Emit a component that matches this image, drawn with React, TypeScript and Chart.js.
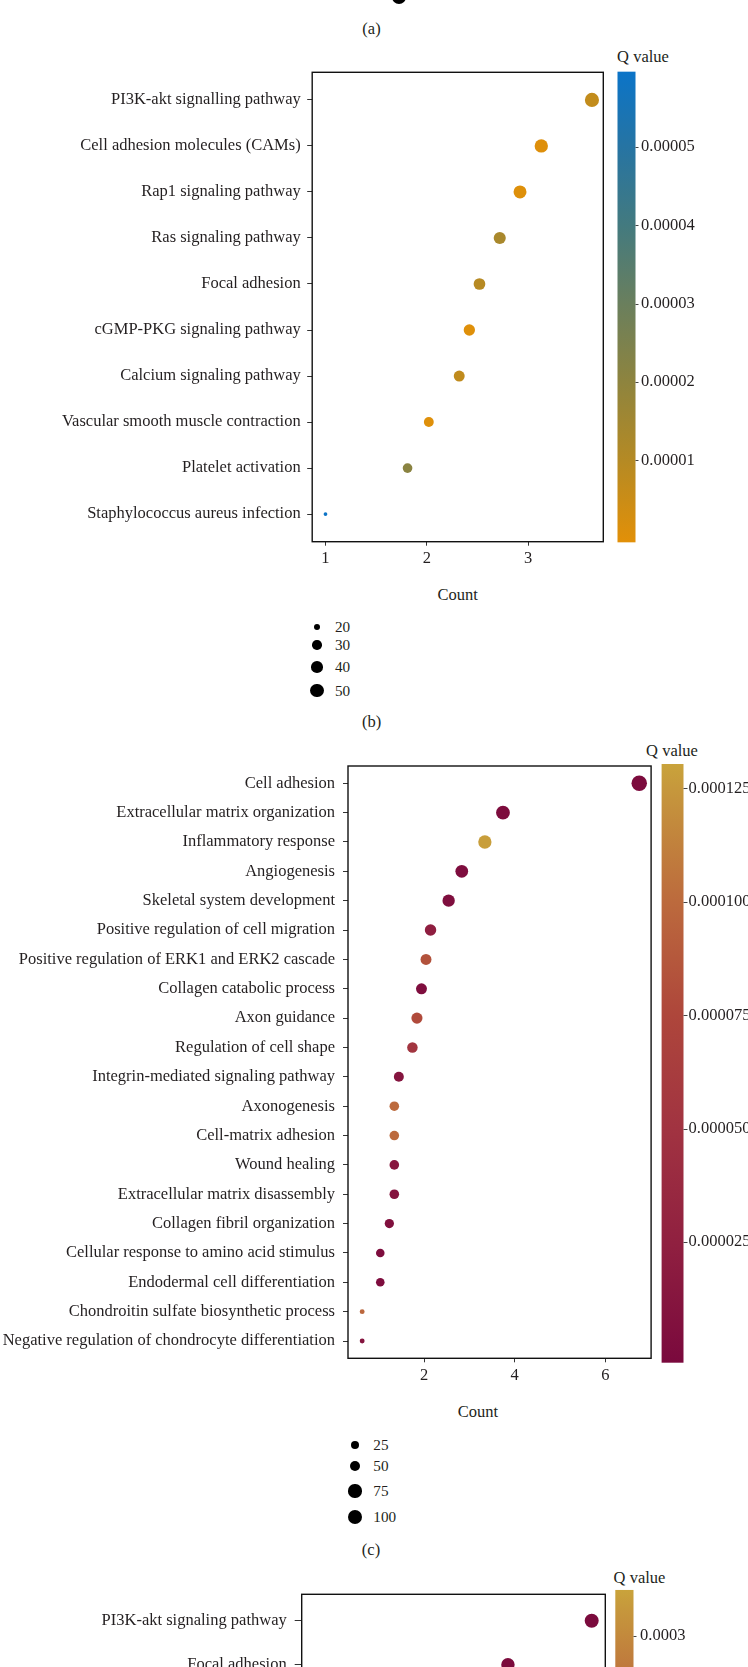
import React, { useEffect, useRef } from "react";
import { Chart, registerables } from "chart.js";

Chart.register(...registerables);

const FONT = '"Liberation Serif", "Times New Roman", Times, serif';
const TEXT = "#231f20";
const FS = 16.5;

// ---------------- Panel (b) ----------------
const bCategories = [
  "PI3K-akt signalling pathway",
  "Cell adhesion molecules (CAMs)",
  "Rap1 signaling pathway",
  "Ras signaling pathway",
  "Focal adhesion",
  "cGMP-PKG signaling pathway",
  "Calcium signaling pathway",
  "Vascular smooth muscle contraction",
  "Platelet activation",
  "Staphylococcus aureus infection",
];
const bXValues = [3.63, 3.13, 2.92, 2.72, 2.52, 2.42, 2.32, 2.02, 1.81, 1.0];
const bCounts = [57, 52, 50, 45, 43, 41, 39, 34, 33, 15];
const bQValues = [7.0e-6, 5e-7, 4e-7, 1.3e-5, 9.5e-6, 3e-7, 7.5e-6, 3e-7, 2.1e-5, 5.9e-5];
const bXTicks = [1, 2, 3];
const bQTicks = [0.00001, 0.00002, 0.00003, 0.00004, 0.00005];
const bQTickLabels = ["0.00001", "0.00002", "0.00003", "0.00004", "0.00005"];
const bSizeLegend = [20, 30, 40, 50];

// ---------------- Panel (c) ----------------
const cCategories = [
  "Cell adhesion",
  "Extracellular matrix organization",
  "Inflammatory response",
  "Angiogenesis",
  "Skeletal system development",
  "Positive regulation of cell migration",
  "Positive regulation of ERK1 and ERK2 cascade",
  "Collagen catabolic process",
  "Axon guidance",
  "Regulation of cell shape",
  "Integrin-mediated signaling pathway",
  "Axonogenesis",
  "Cell-matrix adhesion",
  "Wound healing",
  "Extracellular matrix disassembly",
  "Collagen fibril organization",
  "Cellular response to amino acid stimulus",
  "Endodermal cell differentiation",
  "Chondroitin sulfate biosynthetic process",
  "Negative regulation of chondrocyte differentiation",
];
const cXValues = [6.75, 3.74, 3.34, 2.83, 2.54, 2.14, 2.04, 1.94, 1.84, 1.74, 1.44, 1.34, 1.34, 1.34, 1.34, 1.23, 1.03, 1.03, 0.63, 0.63];
const cCounts = [117, 92, 85, 78, 73, 63, 57, 57, 59, 52, 47, 43, 43, 43, 43, 40, 34, 34, 9, 9];
const cQValues = [
  1e-6, 2e-6, 1.28e-4, 3e-6, 4e-6, 2.3e-5, 8.3e-5, 4e-6, 7.8e-5, 5.2e-5,
  1.2e-5, 1.0e-4, 1.0e-4, 1.5e-5, 1.1e-5, 6e-6, 3e-6, 3e-6, 9.8e-5, 1.2e-5,
];
const cXTicks = [2, 4, 6];
const cQTicks = [0.000025, 0.00005, 0.000075, 0.0001, 0.000125];
const cQTickLabels = ["0.000025", "0.000050", "0.000075", "0.000100", "0.000125"];
const cSizeLegend = [25, 50, 75, 100];

// ---------------- Panel (d) (top part only) ----------------
const dCategories = ["PI3K-akt signaling pathway", "Focal adhesion"];
const dXValues = [3.62, 2.82];
const dCounts = [95, 87];
const dQValues = [3e-6, 5e-6];
const dXTicks = [1, 2, 3];
const dQTicks = [0.0003];
const dQTickLabels = ["0.0003"];

// ---------------- colour ramps ----------------
const bStops: [number, string][] = [
  [0, "#E29008"], [0.173, "#B58A24"], [0.34, "#8E843E"], [0.507, "#6A7F5D"],
  [0.674, "#437A7F"], [0.841, "#2674A3"], [1, "#0B74C8"],
];
const cStops: [number, string][] = [
  [0, "#7A093D"], [0.2, "#902040"], [0.39, "#A13341"], [0.58, "#AE463B"],
  [0.77, "#BC6A3D"], [0.96, "#C6983C"], [1, "#C9A33B"],
];

function hexRgb(h: string) {
  const n = parseInt(h.slice(1), 16);
  return [(n >> 16) & 255, (n >> 8) & 255, n & 255];
}
function colorAt(stops: [number, string][], t: number) {
  t = Math.max(0, Math.min(1, t));
  for (let i = 1; i < stops.length; i++) {
    if (t <= stops[i][0]) {
      const [t0, c0] = stops[i - 1];
      const [t1, c1] = stops[i];
      const f = (t - t0) / (t1 - t0 || 1);
      const a = hexRgb(c0), b = hexRgb(c1);
      const m = a.map((v, k) => Math.round(v + (b[k] - v) * f));
      return `rgb(${m[0]},${m[1]},${m[2]})`;
    }
  }
  return stops[stops.length - 1][1];
}

const radiusB = (c: number) => Math.sqrt(Math.max(1, 1.1 * c - 13));
const radiusC = (c: number) => Math.sqrt(1.5 + 0.5 * c);

type Spec = {
  top: number; height: number;
  box: { left: number; right: number; top: number; bottom: number };
  categories: string[]; rows: number; yPad: number;
  xValues: number[]; counts: number[]; qValues: number[];
  xMin: number; xMax: number; xTicks: number[];
  qAxisMin: number; qAxisMax: number; barMin: number; barMax: number;
  barLeft: number; barRight: number; qTickLen: number; qLabelX: number;
  qTicks: number[]; qTickLabels: string[];
  stops: [number, string][];
  radius: (c: number) => number;
  yTickLen: number; yLabelPad: number; xLabelPad: number;
};

const specB: Spec = {
  top: 40, height: 540,
  box: { left: 312.2, right: 603.3, top: 72.3, bottom: 541.7 },
  categories: bCategories, rows: bCategories.length, yPad: 0.6,
  xValues: bXValues, counts: bCounts, qValues: bQValues,
  xMin: 0.869, xMax: 3.742, xTicks: bXTicks,
  qAxisMin: -3.6e-7, qAxisMax: 5.952e-5, barMin: -4.4e-7, barMax: 5.96e-5,
  barLeft: 617.5, barRight: 635.5, qTickLen: 3, qLabelX: 641,
  qTicks: bQTicks, qTickLabels: bQTickLabels, stops: bStops, radius: radiusB,
  yTickLen: 5, yLabelPad: 6.5, xLabelPad: 3.5,
};

const specC: Spec = {
  top: 740, height: 660,
  box: { left: 348, right: 651.1, top: 766, bottom: 1358.3 },
  categories: cCategories, rows: cCategories.length, yPad: 0.589,
  xValues: cXValues, counts: cCounts, qValues: cQValues,
  xMin: 0.317, xMax: 7.012, xTicks: cXTicks,
  qAxisMin: -6.4e-7, qAxisMax: 1.2994e-4, barMin: -1.61e-6, barMax: 1.3038e-4,
  barLeft: 661.6, barRight: 683.5, qTickLen: 4, qLabelX: 688.5,
  qTicks: cQTicks, qTickLabels: cQTickLabels, stops: cStops, radius: radiusC,
  yTickLen: 5, yLabelPad: 8, xLabelPad: 3.8,
};

const specD: Spec = {
  top: 1560, height: 520,
  box: { left: 301.7, right: 605.3, top: 1594.3, bottom: 2043.1 },
  categories: dCategories, rows: 10, yPad: 0.6,
  xValues: dXValues, counts: dCounts, qValues: dQValues,
  xMin: 0.85, xMax: 3.75, xTicks: dXTicks,
  qAxisMin: 0, qAxisMax: 0.0003307, barMin: -0.0000015, barMax: 0.0003339,
  barLeft: 615.3, barRight: 633.5, qTickLen: 3, qLabelX: 640,
  qTicks: dQTicks, qTickLabels: dQTickLabels, stops: cStops, radius: radiusC,
  yTickLen: 7, yLabelPad: 8, xLabelPad: 3.5,
};

function zeroPad(sc: any) {
  sc.paddingLeft = 0; sc.paddingRight = 0; sc.paddingTop = 0; sc.paddingBottom = 0;
}

function Panel({ spec }: { spec: Spec }) {
  const ref = useRef<HTMLCanvasElement>(null);
  useEffect(() => {
    const s = spec;
    const canvas = ref.current!;
    const colorOf = (q: number) => colorAt(s.stops, (q - s.barMin) / (s.barMax - s.barMin));
    const points = s.categories.map((_, i) => ({ x: s.xValues[i], y: i, r: s.radius(s.counts[i]) }));
    const font = { family: FONT, size: FS };
    const decor = {
      id: "decor" + s.top,
      afterDraw(chart: any) {
        const { ctx, chartArea } = chart;
        const q = chart.scales.q;
        ctx.save();
        const yb = q.getPixelForValue(s.barMin);
        const yt = q.getPixelForValue(s.barMax);
        const g = ctx.createLinearGradient(0, yb, 0, yt);
        s.stops.forEach(([t, c]) => g.addColorStop(t, c));
        ctx.fillStyle = g;
        ctx.fillRect(s.barLeft, yt, s.barRight - s.barLeft, yb - yt);
        ctx.strokeStyle = "#444";
        ctx.lineWidth = 1;
        s.qTicks.forEach((v) => {
          const y = Math.round(q.getPixelForValue(v)) + 0.5;
          ctx.beginPath();
          ctx.moveTo(s.barRight, y);
          ctx.lineTo(s.barRight + s.qTickLen, y);
          ctx.stroke();
        });
        ctx.strokeStyle = "#111";
        ctx.lineWidth = 1.4;
        ctx.strokeRect(chartArea.left, chartArea.top, chartArea.right - chartArea.left, chartArea.bottom - chartArea.top);
        ctx.restore();
      },
    };
    const chart = new Chart(canvas, {
      type: "bubble",
      data: {
        datasets: [
          {
            data: points,
            backgroundColor: s.qValues.map(colorOf),
            borderWidth: 0,
            hoverBorderWidth: 0,
          } as any,
        ],
      },
      options: {
        responsive: false,
        animation: false,
        events: [],
        layout: { padding: { top: s.box.top - s.top, bottom: 0, left: 0, right: 0 } },
        plugins: { legend: { display: false }, tooltip: { enabled: false }, title: { display: false } },
        scales: {
          x: {
            type: "linear", position: "bottom", min: s.xMin, max: s.xMax, bounds: "data",
            afterBuildTicks: (sc: any) => { sc.ticks = s.xTicks.map((v) => ({ value: v })); },
            afterFit: (sc: any) => { sc.height = s.top + s.height - s.box.bottom; zeroPad(sc); },
            grid: { display: true, drawOnChartArea: false, drawTicks: true, tickLength: 4, color: "#333", lineWidth: 1 },
            border: { display: false },
            ticks: { padding: s.xLabelPad, color: TEXT, font, autoSkip: false, maxRotation: 0, callback: (v: any) => String(v) },
          },
          y: {
            type: "linear", position: "left", reverse: true, min: -s.yPad, max: s.rows - 1 + s.yPad, bounds: "data",
            afterBuildTicks: (sc: any) => { sc.ticks = s.categories.map((_, i) => ({ value: i })); },
            afterFit: (sc: any) => { sc.width = s.box.left; zeroPad(sc); },
            grid: { display: true, drawOnChartArea: false, drawTicks: true, tickLength: s.yTickLen, color: "#333", lineWidth: 1 },
            border: { display: false },
            ticks: { padding: s.yLabelPad, color: TEXT, font, autoSkip: false, callback: (v: any) => s.categories[Math.round(v)] ?? "" },
          },
          q: {
            type: "linear", position: "right", min: s.qAxisMin, max: s.qAxisMax, bounds: "data",
            afterBuildTicks: (sc: any) => { sc.ticks = s.qTicks.map((v) => ({ value: v })); },
            afterFit: (sc: any) => { sc.width = 748 - s.box.right; zeroPad(sc); },
            grid: { display: false, drawTicks: false, tickLength: 0 },
            border: { display: false },
            ticks: { padding: s.qLabelX - s.box.right, color: TEXT, font, autoSkip: false, callback: (_v: any, i: number) => s.qTickLabels[i] },
          },
        },
      } as any,
      plugins: [decor],
    });
    return () => chart.destroy();
  }, [spec]);
  return (
    <canvas
      ref={ref}
      width={748}
      height={spec.height}
      style={{ position: "absolute", left: 0, top: spec.top, width: 748, height: spec.height }}
    />
  );
}

function Txt({ x, y, children, size = FS, align = "center" }: any) {
  return (
    <div
      style={{
        position: "absolute", left: x, top: y, whiteSpace: "nowrap",
        transform: align === "center" ? "translate(-50%, -50%)" : "translate(0, -50%)",
        fontFamily: FONT, fontSize: size, lineHeight: 1, color: TEXT,
      }}
    >
      {children}
    </div>
  );
}

function Dot({ x, y, r }: { x: number; y: number; r: number }) {
  return (
    <div
      style={{
        position: "absolute", left: x - r, top: y - r, width: 2 * r, height: 2 * r,
        borderRadius: "50%", background: "#000",
      }}
    />
  );
}

const bLegendY = [627, 645, 667, 690.5];
const cLegendY = [1445, 1466, 1491, 1517];
const LEGEND_FS = 15.2;

export default function App() {
  return (
    <div style={{ position: "fixed", left: 0, top: 0, width: 748, height: 1667, overflow: "hidden", background: "#fff" }}>
      {/* remnant of panel (a) */}
      <Dot x={399} y={-3.5} r={7.4} />
      <Txt x={371.5} y={28.5}>(a)</Txt>

      {/* panel (b) */}
      <Txt x={643} y={56.5}>Q value</Txt>
      <Panel spec={specB} />
      <Txt x={457.7} y={595}>Count</Txt>
      {bSizeLegend.map((v, i) => (
        <React.Fragment key={"bl" + v}>
          <Dot x={317} y={bLegendY[i]} r={radiusB(v) + 0.3} />
          <Txt x={335} y={bLegendY[i]} size={LEGEND_FS} align="left">{v}</Txt>
        </React.Fragment>
      ))}
      <Txt x={371.7} y={721.7}>(b)</Txt>

      {/* panel (c) */}
      <Txt x={672} y={751}>Q value</Txt>
      <Panel spec={specC} />
      <Txt x={478} y={1412.3}>Count</Txt>
      {cSizeLegend.map((v, i) => (
        <React.Fragment key={"cl" + v}>
          <Dot x={355} y={cLegendY[i]} r={radiusC(v) + 0.3} />
          <Txt x={373.3} y={cLegendY[i]} size={LEGEND_FS} align="left">{v}</Txt>
        </React.Fragment>
      ))}
      <Txt x={371} y={1550}>(c)</Txt>

      {/* panel (d) */}
      <Txt x={639.5} y={1578.3}>Q value</Txt>
      <Panel spec={specD} />
    </div>
  );
}
